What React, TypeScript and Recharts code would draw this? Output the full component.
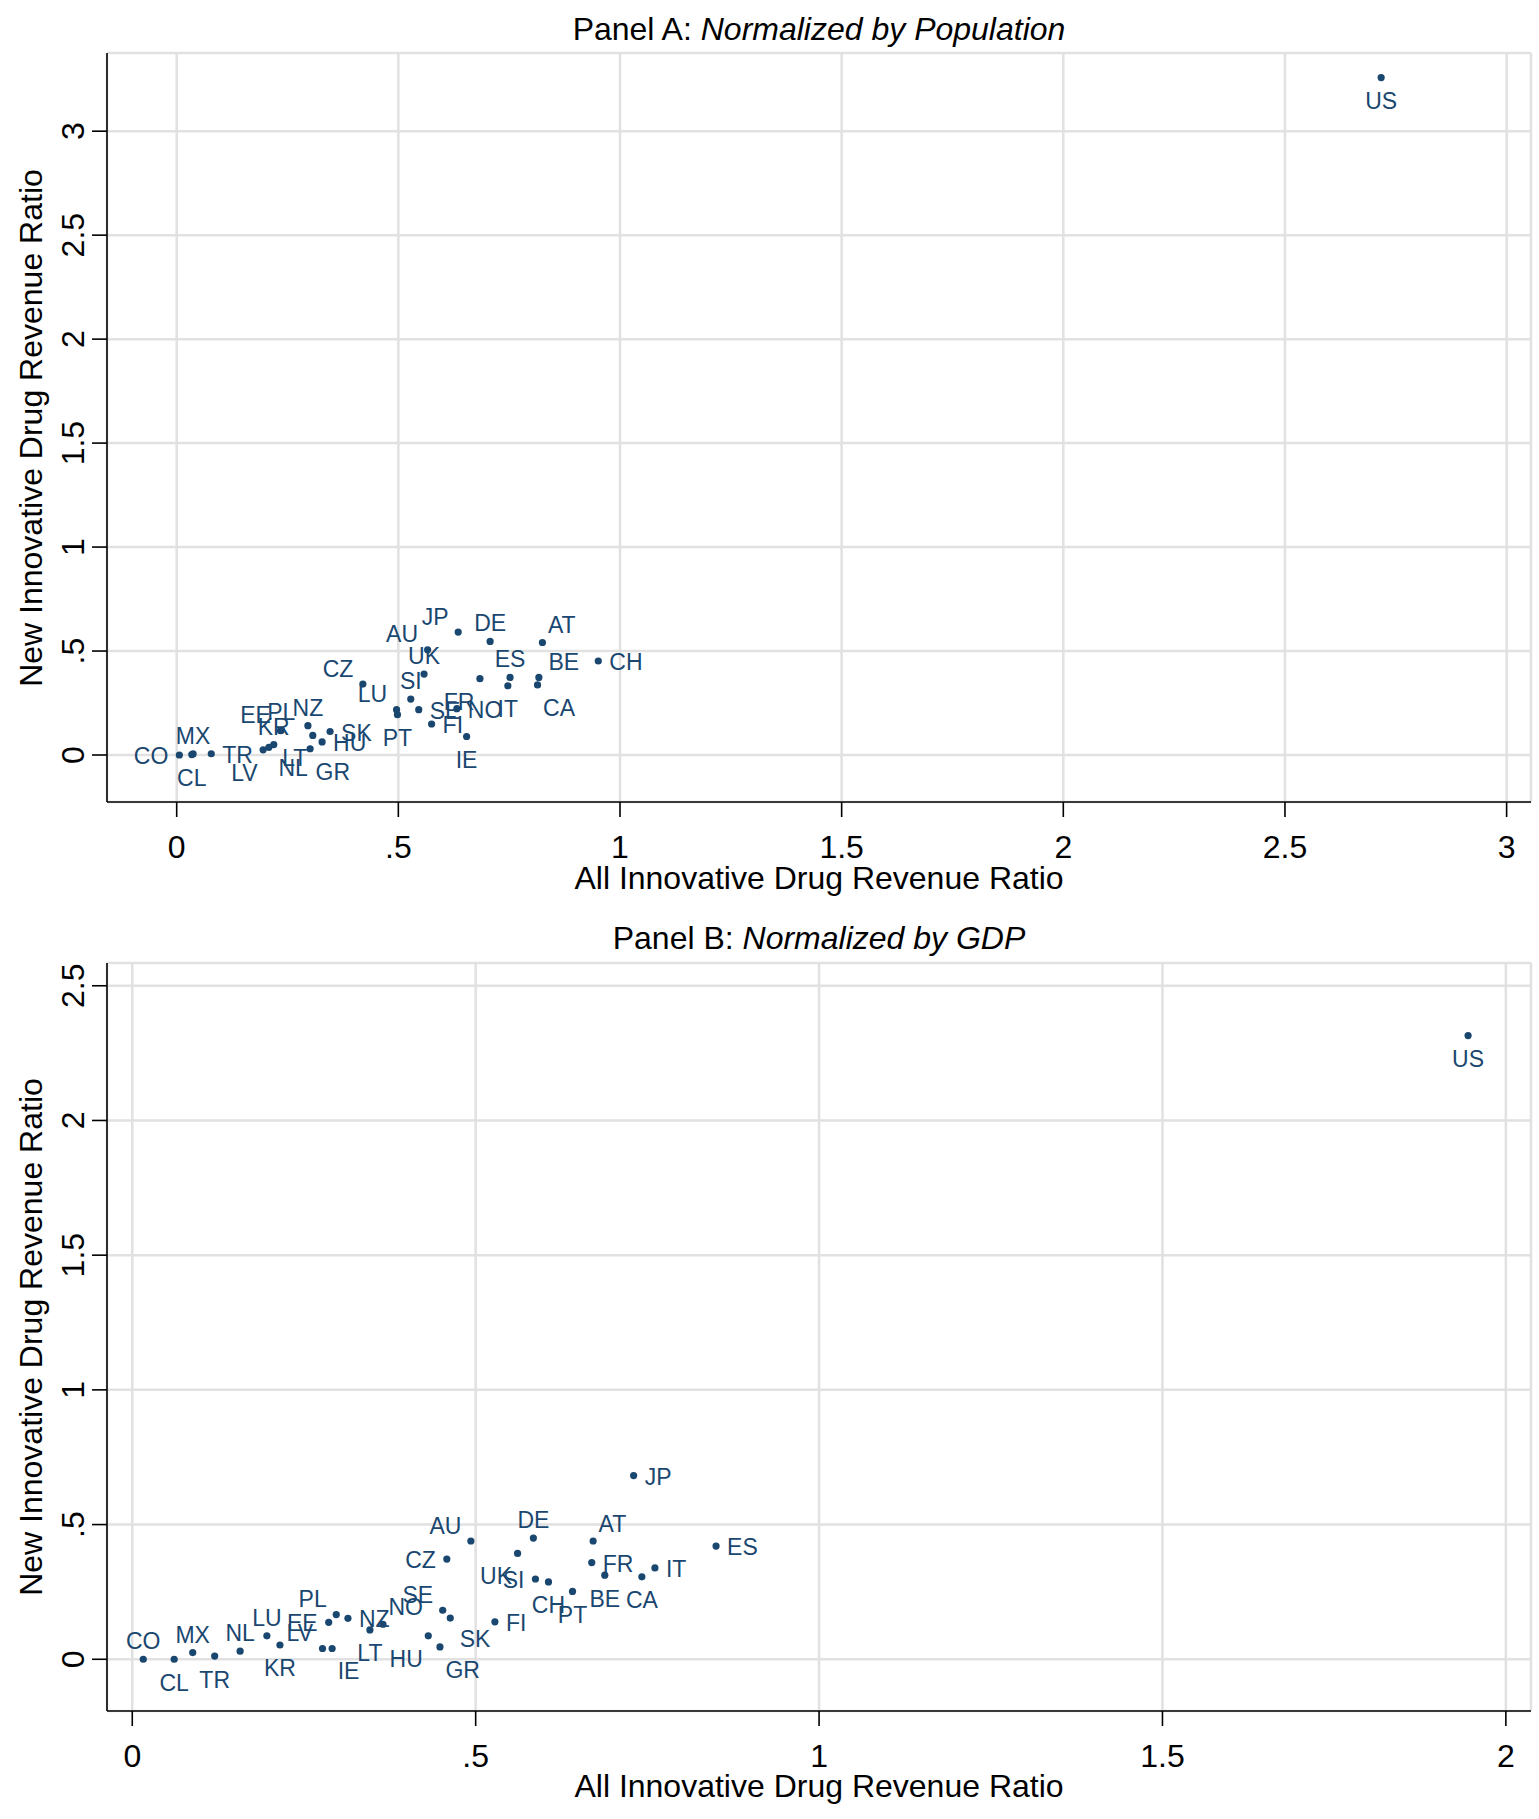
import React from 'react';
import { ScatterChart, Scatter, XAxis, YAxis, CartesianGrid } from 'recharts';

// Panel A: revenue ratios normalized by population
const countriesA = ['CO', 'CL', 'MX', 'TR', 'LV', 'NL', 'KR', 'EE', 'PL', 'NZ', 'LT', 'GR', 'HU', 'SK', 'CZ', 'LU', 'PT', 'SI', 'SE', 'UK', 'FI', 'NO', 'AU', 'JP', 'FR', 'IT', 'ES', 'DE', 'IE', 'CA', 'BE', 'AT', 'CH', 'US'];
const allRatioA = [0.006, 0.034, 0.037, 0.078, 0.195, 0.208, 0.219, 0.234, 0.236, 0.296, 0.307, 0.301, 0.328, 0.346, 0.42, 0.496, 0.498, 0.528, 0.546, 0.558, 0.575, 0.632, 0.566, 0.635, 0.684, 0.747, 0.752, 0.707, 0.654, 0.814, 0.817, 0.825, 0.951, 2.717];
const newRatioA = [0.0, 0.002, 0.005, 0.006, 0.025, 0.037, 0.05, 0.117, 0.119, 0.141, 0.094, 0.03, 0.063, 0.113, 0.341, 0.218, 0.194, 0.269, 0.218, 0.389, 0.149, 0.223, 0.506, 0.591, 0.367, 0.333, 0.373, 0.546, 0.089, 0.337, 0.373, 0.541, 0.452, 3.258];

// Panel B: revenue ratios normalized by GDP
const countriesB = ['CO', 'CL', 'MX', 'TR', 'NL', 'LU', 'KR', 'LV', 'IE', 'EE', 'PL', 'NZ', 'LT', 'NO', 'HU', 'GR', 'SE', 'SK', 'CZ', 'AU', 'FI', 'UK', 'DE', 'SI', 'CH', 'PT', 'FR', 'AT', 'BE', 'JP', 'CA', 'IT', 'ES', 'US'];
const allRatioB = [0.016, 0.061, 0.088, 0.12, 0.157, 0.196, 0.215, 0.277, 0.291, 0.286, 0.297, 0.314, 0.346, 0.365, 0.431, 0.448, 0.452, 0.463, 0.458, 0.493, 0.528, 0.561, 0.584, 0.587, 0.606, 0.641, 0.669, 0.671, 0.688, 0.73, 0.742, 0.761, 0.85, 1.945];
const newRatioB = [0.0, 0.0, 0.025, 0.012, 0.03, 0.087, 0.053, 0.04, 0.04, 0.137, 0.166, 0.152, 0.109, 0.13, 0.087, 0.046, 0.182, 0.153, 0.372, 0.439, 0.139, 0.393, 0.45, 0.298, 0.287, 0.252, 0.359, 0.439, 0.312, 0.682, 0.306, 0.339, 0.42, 2.315];

const xTicksA = [0, 0.5, 1, 1.5, 2, 2.5, 3];
const yTicksA = [0, 0.5, 1, 1.5, 2, 2.5, 3];
const xTicksB = [0, 0.5, 1, 1.5, 2];
const yTicksB = [0, 0.5, 1, 1.5, 2, 2.5];

// marker label positions, clock style (3 = right, 12 = above ...)
const labelClockA: Record<string, number> = {
  CO: 9, CL: 6, MX: 12, TR: 3, LV: 7, NL: 4, KR: 12, EE: 10, PL: 12, NZ: 12, LT: 7, GR: 5,
  HU: 3, SK: 3, CZ: 10, LU: 10, PT: 6, SI: 12, SE: 3, UK: 12, FI: 3, NO: 3, AU: 10, JP: 10,
  FR: 7, IT: 6, ES: 12, DE: 12, IE: 6, CA: 5, BE: 2, AT: 1, CH: 3, US: 6,
};
const labelClockB: Record<string, number> = {
  CO: 12, CL: 6, MX: 12, TR: 6, NL: 12, LU: 12, KR: 6, LV: 10, IE: 5, EE: 9, PL: 10, NZ: 3,
  LT: 6, NO: 1, HU: 7, GR: 5, SE: 10, SK: 4, CZ: 9, AU: 10, FI: 3, UK: 7, DE: 12, SI: 9,
  CH: 6, PT: 6, FR: 3, AT: 1, BE: 6, JP: 3, CA: 6, IT: 3, ES: 3, US: 6,
};

const NAVY = '#1a476f';
const FONT = "'Liberation Sans', Arial, sans-serif";
const W = 1539;

const toPoints = (codes: string[], xs: number[], ys: number[]) =>
  codes.map((code, i) => ({ code, x: xs[i], y: ys[i] }));

const fmt = (v: number) => (Number.isInteger(v) ? String(v) : String(v).replace(/^0\./, '.'));

const makeMarker = (clock: Record<string, number>) => (props: any) => {
  const { cx, cy, payload } = props;
  const pos = clock[payload.code] ?? 3;
  const a = (pos * Math.PI) / 6;
  const sx = Math.sin(a);
  const up = Math.cos(a);
  const tx = cx + 11 * sx;
  let ty: number;
  if (up > 0.1) ty = cy - 5 * up - 5;
  else if (up < -0.1) ty = cy - 5 * up + 26.5;
  else ty = cy + 9;
  const anchor = sx > 0.1 ? 'start' : sx < -0.1 ? 'end' : 'middle';
  return (
    <g>
      <circle cx={cx} cy={cy} r={3.6} fill={NAVY} />
      <text x={tx} y={ty} textAnchor={anchor} fontSize={23} fill={NAVY} fontFamily={FONT}>
        {payload.code}
      </text>
    </g>
  );
};

const XTick = (props: any) => {
  const { x, y, payload } = props;
  return (
    <text x={x} y={y + 41} textAnchor="middle" fontSize={32} fill="#000" fontFamily={FONT}>
      {fmt(payload.value)}
    </text>
  );
};

const YTick = (props: any) => {
  const { x, y, payload } = props;
  return (
    <g transform={`translate(${x - 20},${y}) rotate(-90)`}>
      <text x={0} y={11.5} textAnchor="middle" fontSize={32} fill="#000" fontFamily={FONT}>
        {fmt(payload.value)}
      </text>
    </g>
  );
};

const textStyle: React.CSSProperties = {
  position: 'absolute',
  fontFamily: FONT,
  fontSize: 32,
  lineHeight: '32px',
  height: 32,
  color: '#000',
  textAlign: 'center',
  whiteSpace: 'nowrap',
};

interface PanelProps {
  top: number;
  height: number;
  marginTop: number;
  axisHeight: number;
  data: { code: string; x: number; y: number }[];
  xDomain: [number, number];
  yDomain: [number, number];
  xTicks: number[];
  yTicks: number[];
  clock: Record<string, number>;
}

const Panel = ({ top, height, marginTop, axisHeight, data, xDomain, yDomain, xTicks, yTicks, clock }: PanelProps) => (
  <div style={{ position: 'absolute', left: 0, top, width: W, height }}>
    <ScatterChart width={W} height={height} margin={{ top: marginTop, right: 8, bottom: 0, left: 0 }}>
      <CartesianGrid stroke="#e1e1e1" strokeWidth={2.5} />
      <XAxis
        type="number"
        dataKey="x"
        domain={xDomain}
        ticks={xTicks}
        allowDataOverflow
        height={axisHeight}
        tickSize={15}
        tickMargin={0}
        tickLine={{ stroke: '#000', strokeWidth: 1.6 }}
        axisLine={{ stroke: '#000', strokeWidth: 1.6 }}
        tick={<XTick />}
      />
      <YAxis
        type="number"
        dataKey="y"
        domain={yDomain}
        ticks={yTicks}
        allowDataOverflow
        width={107}
        tickSize={15}
        tickMargin={0}
        tickLine={{ stroke: '#000', strokeWidth: 1.6 }}
        axisLine={{ stroke: '#000', strokeWidth: 1.6 }}
        tick={<YTick />}
      />
      <Scatter data={data} shape={makeMarker(clock)} isAnimationActive={false} />
    </ScatterChart>
  </div>
);

const YTitle = ({ cy }: { cy: number }) => (
  <div style={{ ...textStyle, left: 31 - 300, top: cy - 16, width: 600, transform: 'rotate(-90deg)' }}>
    New Innovative Drug Revenue Ratio
  </div>
);

const XTitle = ({ cy }: { cy: number }) => (
  <div style={{ ...textStyle, left: 107, top: cy - 16, width: 1424 }}>All Innovative Drug Revenue Ratio</div>
);

export default function App() {
  return (
    <div style={{ position: 'absolute', left: 0, top: 0, width: W, height: 1819, background: '#fff', overflow: 'hidden' }}>
      <Panel
        top={0}
        height={905}
        marginTop={53}
        axisHeight={103}
        data={toPoints(countriesA, allRatioA, newRatioA)}
        xDomain={[-0.1572, 3.055]}
        yDomain={[-0.226, 3.376]}
        xTicks={xTicksA}
        yTicks={yTicksA}
        clock={labelClockA}
      />
      <Panel
        top={905}
        height={914}
        marginTop={58}
        axisHeight={108}
        data={toPoints(countriesB, allRatioB, newRatioB)}
        xDomain={[-0.0368, 2.0366]}
        yDomain={[-0.192, 2.5845]}
        xTicks={xTicksB}
        yTicks={yTicksB}
        clock={labelClockB}
      />

      <div style={{ ...textStyle, left: 107, top: 13, width: 1424 }}>
        Panel A: <i>Normalized by Population</i>
      </div>
      <div style={{ ...textStyle, left: 107, top: 922, width: 1424 }}>
        Panel B: <i>Normalized by GDP</i>
      </div>
      <XTitle cy={878} />
      <XTitle cy={1786} />
      <YTitle cy={427.5} />
      <YTitle cy={1337} />
    </div>
  );
}
